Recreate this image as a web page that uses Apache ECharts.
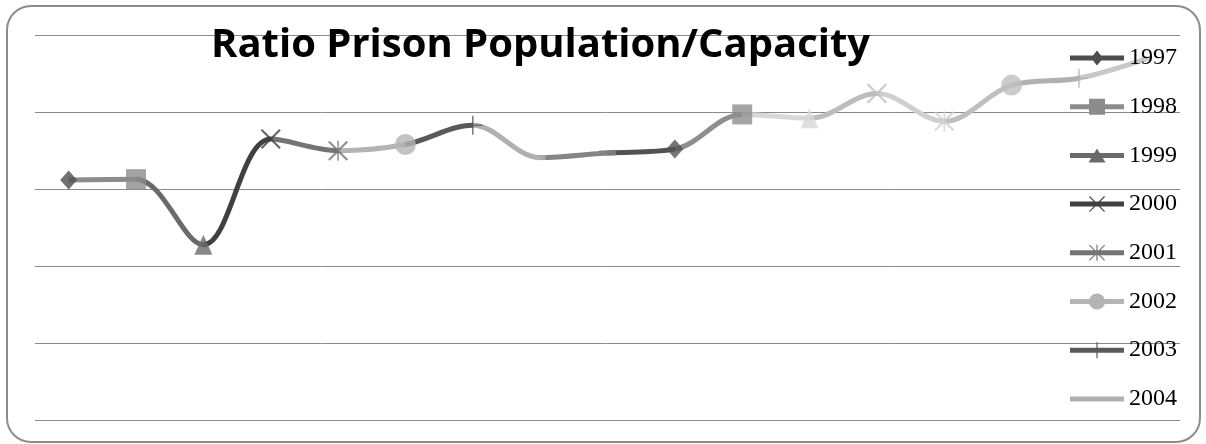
<!DOCTYPE html>
<html>
<head>
<meta charset="utf-8">
<script src="https://cdn.jsdelivr.net/npm/echarts@6/dist/echarts.min.js"></script>
<style>
  html, body { margin: 0; padding: 0; background: #fff; }
  #chart { width: 1206px; height: 444px; }
</style>
</head>
<body>
<div id="chart"></div>
<script>
// categories (years) and ratio values
const years = ['1997', '1998', '1999', '2000', '2001', '2002', '2003', '2004', '2005',
  '2006', '2007', '2008', '2009', '2010', '2011', '2012', '2013'];
const ratios = [3.12, 3.13, 2.28, 3.65, 3.50, 3.58, 3.83, 3.41, 3.47,
  3.52, 3.97, 3.92, 4.24, 3.88, 4.35, 4.44, 4.69];
const legendYears = ['1997', '1998', '1999', '2000', '2001', '2002', '2003', '2004'];

// per-point grey shades (Excel "vary colours by point")
const pointColors = ['#4d4d4d', '#8c8c8c', '#6a6a6a', '#404040', '#747474', '#b4b4b4', '#595959', '#b0b0b0',
  '#858585', '#525252', '#8e8e8e', '#d8d8d8', '#bdbdbd', '#cfcfcf', '#bfbfbf', '#b0b0b0', '#c8c8c8'];

const X_PATH = 'path://M0,1.5L1.5,0L20,18.5L18.5,20Z M18.5,0L20,1.5L1.5,20L0,18.5Z';
const STAR_PATH = X_PATH + ' M9.25,0h1.5v20h-1.5Z';
const PLUS_PATH = 'path://M9.2,0h1.6v20h-1.6Z M0,9.2h20v1.6h-20Z';

const markerCycle = [
  { symbol: 'diamond', size: [17, 19] },
  { symbol: 'rect', size: 20 },
  { symbol: 'triangle', size: [18, 20] },
  { symbol: X_PATH, size: 20 },
  { symbol: STAR_PATH, size: 20 },
  { symbol: 'circle', size: 21 },
  { symbol: PLUS_PATH, size: 19 },
  { symbol: 'rect', size: [11, 5] },
  { symbol: 'rect', size: [17, 5] }
];

// legend icons: 54x16 box, thick line through the middle plus the marker
const BAR = 'M0,5.5H54V10.5H0Z M27,0L27.03,0L27.03,0.03Z M27,16L27.03,16L27.03,15.97Z';
const LX = 'M19,0.8L19.8,0L35,15.2L34.2,16Z M34.2,0L35,0.8L19.8,16L19,15.2Z';
const LV = 'M26.4,0H27.6V16H26.4Z';
const legendIcons = [
  BAR + ' M27,0.5L33,8L27,15.5L21,8Z',
  BAR + ' M19,0H35V16H19Z',
  BAR + ' M27,1L35.5,15L18.5,15Z',
  BAR + ' ' + LX,
  BAR + ' ' + LX + ' ' + LV,
  BAR + ' M19,8A8,8 0 1,1 35,8A8,8 0 1,1 19,8Z',
  BAR + ' ' + LV,
  BAR
];

const chart = echarts.init(document.getElementById('chart'), null, { renderer: 'canvas' });

const markerData = ratios.map((v, i) => {
  const m = markerCycle[i % markerCycle.length];
  return {
    value: v,
    symbol: m.symbol,
    symbolSize: m.size,
    itemStyle: { color: pointColors[i] }
  };
});

// segment leading into point i takes point i's colour
const pieces = [{ lte: 0, color: pointColors[0] }];
for (let i = 1; i < ratios.length; i++) {
  pieces.push({ gt: i - 1, lte: i, color: pointColors[i] });
}

const legendSeries = legendYears.map((name, i) => ({
  name,
  type: 'line',
  data: [],
  itemStyle: { color: pointColors[i] },
  lineStyle: { color: pointColors[i], width: 5 }
}));

chart.setOption({
  animation: false,
  backgroundColor: '#fff',
  title: {
    text: 'Ratio Prison Population/Capacity',
    left: 206,
    top: 21,
    textStyle: {
      fontFamily: 'Open Sans',
      fontWeight: 'bold',
      fontSize: 40,
      color: '#000'
    }
  },
  graphic: [{
    type: 'rect',
    shape: { x: 7, y: 6, width: 1193, height: 436, r: 24 },
    style: { fill: 'none', stroke: '#8c8c8c', lineWidth: 2 },
    z: -1
  }],
  legend: {
    orient: 'vertical',
    left: 1070,
    top: 46,
    padding: 0,
    itemWidth: 54,
    itemHeight: 16,
    itemGap: 24.7,
    selectedMode: false,
    itemStyle: { borderWidth: 0 },
    data: legendYears.map((name, i) => ({ name, icon: 'path://' + legendIcons[i] })),
    textStyle: {
      fontFamily: 'Liberation Serif',
      fontSize: 24,
      lineHeight: 24,
      color: '#000'
    }
  },
  grid: { left: 35, right: 26, top: 35, bottom: 23.5 },
  xAxis: {
    type: 'category',
    data: years,
    boundaryGap: true,
    axisLine: { show: false },
    axisTick: { show: false },
    axisLabel: { show: false }
  },
  yAxis: {
    type: 'value',
    min: 0,
    max: 5,
    interval: 1,
    axisLabel: { show: false },
    axisLine: { show: false },
    axisTick: { show: false },
    splitLine: { lineStyle: { color: '#8a8a8a', width: 1 } }
  },
  visualMap: {
    show: false,
    type: 'piecewise',
    dimension: 0,
    seriesIndex: 0,
    pieces
  },
  series: [
    {
      name: 'ratio',
      type: 'line',
      data: ratios,
      smooth: 0.35,
      showSymbol: false,
      lineStyle: { width: 5 },
      z: 2
    },
    {
      name: 'points',
      type: 'scatter',
      data: markerData,
      z: 3
    },
    ...legendSeries
  ]
});
</script>
</body>
</html>
